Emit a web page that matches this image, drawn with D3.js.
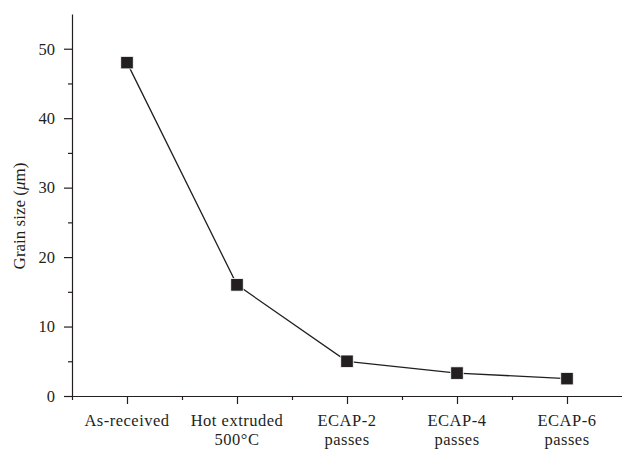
<!DOCTYPE html>
<html>
<head>
<meta charset="utf-8">
<script src="https://cdn.jsdelivr.net/npm/d3@7"></script>
<style>
  body { margin: 0; background: #fff; }
  svg text { font-family: "Liberation Serif", "Times New Roman", serif; fill: #231f20; }
</style>
</head>
<body>
<div id="chart"></div>
<script>
// categories, two lines each
const categories = [
  ["As-received"],
  ["Hot extruded", "500°C"],
  ["ECAP-2", "passes"],
  ["ECAP-4", "passes"],
  ["ECAP-6", "passes"]
];
const grainSize = [48, 16, 5, 3.3, 2.5];
const yTicks = [0, 10, 20, 30, 40, 50];
const yMinorTicks = [5, 15, 25, 35, 45];

const svg_width = 622, svg_height = 451;
const margin = { top: 14, right: 0, bottom: 55, left: 72 };
const width = svg_width - margin.left - margin.right;
const height = svg_height - margin.top - margin.bottom;
const ink = "#231f20";

const svg = d3.select("#chart").append("svg")
  .attr("width", svg_width)
  .attr("height", svg_height);

const g = svg.append("g")
  .attr("transform", `translate(${margin.left}, ${margin.top})`);

// scales
const x = d3.scaleLinear().domain([0.5, 5.5]).range([0, width]);
const y = d3.scaleLinear().domain([0, 55]).range([height, 0]);

// y axis (major + minor ticks)
const yAxis = g.append("g")
  .call(d3.axisLeft(y).tickValues(yTicks).tickSize(8).tickPadding(9).tickSizeOuter(0));
g.append("g")
  .call(d3.axisLeft(y).tickValues(yMinorTicks).tickSize(4).tickFormat("").tickSizeOuter(0))
  .select(".domain").remove();

// x axis
const xAxis = g.append("g")
  .attr("transform", `translate(0, ${height})`)
  .call(d3.axisBottom(x).tickValues(d3.range(1, 6)).tickSize(8).tickFormat("").tickSizeOuter(0));
g.append("g")
  .attr("transform", `translate(0, ${height})`)
  .call(d3.axisBottom(x).tickValues([0.5, 1.5, 2.5, 3.5, 4.5]).tickSize(4).tickFormat("").tickSizeOuter(0))
  .select(".domain").remove();

g.selectAll(".domain, .tick line").attr("stroke", ink).attr("stroke-width", 1.2);
yAxis.selectAll(".tick text")
  .attr("font-size", "16.5px")
  .style("font-family", "Liberation Serif, serif")
  .attr("fill", ink);

// category labels
const catLabels = g.append("g");
categories.forEach(function(lines, i) {
  const t = catLabels.append("text")
    .attr("x", x(i + 1))
    .attr("y", height + 30)
    .attr("text-anchor", "middle")
    .attr("font-size", "16.5px")
    .attr("letter-spacing", "0.5px");
  lines.forEach(function(line, j) {
    t.append("tspan")
      .attr("x", x(i + 1))
      .attr("dy", j === 0 ? 0 : 19)
      .text(line);
  });
});

// y axis label
const yl = svg.append("text")
  .attr("transform", "translate(25, 216) rotate(-90)")
  .attr("text-anchor", "middle")
  .attr("font-size", "17px");
yl.append("tspan").text("Grain size (");
yl.append("tspan").attr("font-style", "italic").text("μ");
yl.append("tspan").text("m)");

// line
const line = d3.line()
  .x((d, i) => x(i + 1))
  .y(d => y(d));

g.append("path")
  .datum(grainSize)
  .attr("d", line)
  .attr("fill", "none")
  .attr("stroke", ink)
  .attr("stroke-width", 1.3);

// markers
const size = 12.5;
g.selectAll("rect.pt")
  .data(grainSize)
  .enter()
  .append("rect")
  .attr("class", "pt")
  .attr("x", (d, i) => x(i + 1) - size / 2)
  .attr("y", d => y(d) - size / 2)
  .attr("width", size)
  .attr("height", size)
  .attr("fill", ink)
  .attr("stroke", "#fff")
  .attr("stroke-width", 0.8);
</script>
</body>
</html>
